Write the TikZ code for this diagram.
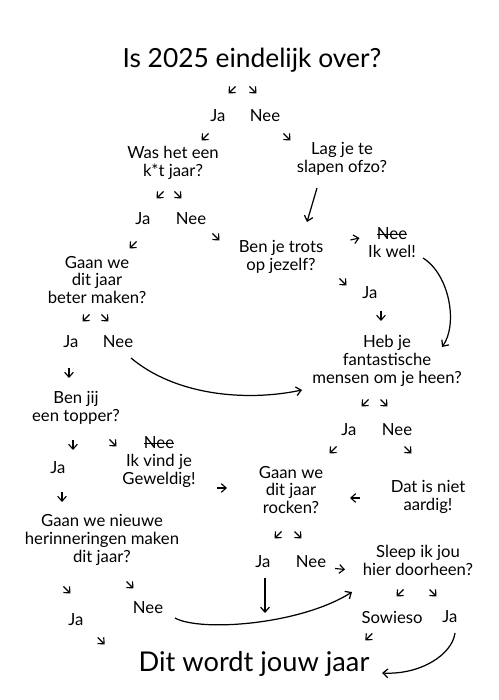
\documentclass[tikz,border=0pt]{standalone}
\usepackage{fontspec}
\setmainfont{Lato}
\usetikzlibrary{arrows.meta,calc}

\newsavebox\strikebox
\newcommand\struck[1]{\sbox\strikebox{#1}\rlap{\rule[0.3em]{\wd\strikebox}{0.5pt}}#1}

\tikzset{
  ask/.style={align=center,inner sep=1pt,font=\fontsize{9.5}{10.2}\selectfont},
  tick/.style={->,line width=0.65pt},
  swoop/.style={->,line width=0.7pt},
}

\begin{document}
\begin{tikzpicture}[x=0.02cm,y=0.02cm,>={Straight Barb[length=2.8pt,width=5pt]}]
  \fill[white] (0,0) rectangle (498,700);
  \useasboundingbox (0,0) rectangle (498,700);

  % questions and answers
  \node[font=\fontsize{15}{17}\selectfont] (title) at (252,640) {Is 2025 eindelijk over?};
  \node[ask] (q0ja) at (218,584) {Ja};
  \node[ask] (q0nee) at (265,584) {Nee};
  \node[ask] (kut) at (173,537) {Was het een\\k*t jaar?};
  \node[ask] (slaap) at (342,541) {Lag je te\\slapen ofzo?};
  \node[ask] (kutja) at (143,481) {Ja};
  \node[ask] (kutnee) at (191,481) {Nee};
  \node[ask] (beter) at (97,420) {Gaan we\\dit jaar\\beter maken?};
  \node[ask] (trots) at (281,443) {Ben je trots\\op jezelf?};
  \node[ask] (ikwel) at (392,457) {\struck{Nee}\\Ik wel!};
  \node[ask] (trotsja) at (370,407) {Ja};
  \node[ask] (mensen) at (387,339) {Heb je\\fantastische\\mensen om je heen?};
  \node[ask] (beterja) at (71,358) {Ja};
  \node[ask] (beternee) at (118,358) {Nee};
  \node[ask] (topper) at (76,292) {Ben jij\\een topper?};
  \node[ask] (topperja) at (58,232) {Ja};
  \node[ask] (geweldig) at (159,238) {\struck{Nee}\\Ik vind je\\Geweldig!};
  \node[ask] (nieuw) at (102,160) {Gaan we nieuwe\\herinneringen maken\\dit jaar?};
  \node[ask] (nieuwja) at (76,80) {Ja};
  \node[ask] (nieuwnee) at (148,92) {Nee};
  \node[ask] (mensenja) at (349,270) {Ja};
  \node[ask] (mensennee) at (397,270) {Nee};
  \node[ask] (rocken) at (291,210) {Gaan we\\dit jaar\\rocken?};
  \node[ask] (aardig) at (428,203) {Dat is niet\\aardig!};
  \node[ask] (rockenja) at (263,138) {Ja};
  \node[ask] (rockennee) at (311,138) {Nee};
  \node[ask] (sleep) at (418,140) {Sleep ik jou\\hier doorheen?};
  \node[ask] (sowieso) at (392,83) {Sowieso};
  \node[ask] (sleepja) at (450,83) {Ja};
  \node[font=\fontsize{15.5}{17}\selectfont] (final) at (254,36) {Dit wordt jouw jaar};

  % short arrows
  \draw[tick] ($(title)!.5!(q0ja)+(0.5,1.5)$) -- ++(-7,-7);
  \draw[tick] ($(title)!.5!(q0nee)+(-9,1.5)$) -- ++(7,-7);
  \draw[tick] ($(q0ja)!.5!(kut)+(13,6)$) -- ++(-7,-7);
  \draw[tick] ($(q0nee)!.5!(slaap)+(-20,4)$) -- ++(7,-7);
  \draw[tick] ($(kut)!.5!(kutja)+(5.5,-0.5)$) -- ++(-7,-7);
  \draw[tick] ($(kut)!.5!(kutnee)+(-7.5,-0.5)$) -- ++(7,-7);
  \draw[tick] ($(kutja)!.5!(beter)+(16.5,8)$) -- ++(-7,-7);
  \draw[tick] ($(kutnee)!.5!(trots)+(-23.5,4.5)$) -- ++(7,-7);
  \draw[tick] ($(trots)!.5!(ikwel)+(14,10)$) -- ++(9,2);
  \draw[tick] ($(trots)!.5!(trotsja)+(14,-3.5)$) -- ++(7,-7);
  \draw[tick] ($(trotsja)!.5!(mensen)+(2.5,16)$) -- ++(0,-10);
  \draw[tick] ($(beter)!.5!(beterja)+(5.5,-3.5)$) -- ++(-7,-7);
  \draw[tick] ($(beter)!.5!(beternee)+(-6,-3.5)$) -- ++(7,-7);
  \draw[tick] ($(beterja)!.5!(topper)+(-4.5,7)$) -- ++(0,-10);
  \draw[tick] ($(topper)!.5!(topperja)+(6,-2)$) -- ++(0,-10);
  \draw[tick] ($(topper)!.5!(geweldig)+(-8,-4.5)$) -- ++(7,-7);
  \draw[tick] ($(geweldig)!.5!(rocken)+(-8,-12)$) -- ++(10,0);
  \draw[tick] ($(topperja)!.5!(nieuw)+(-18,12)$) -- ++(0,-10);
  \draw[tick] ($(nieuw)!.5!(nieuwja)+(-25.5,-6.5)$) -- ++(7,-7);
  \draw[tick] ($(nieuw)!.5!(nieuwnee)+(1.5,-7.5)$) -- ++(7,-7);
  \draw[tick] ($(nieuwja)!.5!(final.west)+(-6.5,4.5)$) -- ++(7,-7);
  \draw[tick] ($(mensen)!.5!(mensenja)+(0.5,-4)$) -- ++(-7,-7);
  \draw[tick] ($(mensen)!.5!(mensennee)+(-11.5,-4)$) -- ++(7,-7);
  \draw[tick] ($(mensenja)!.5!(rocken)+(16.5,13.5)$) -- ++(-7,-7);
  \draw[tick] ($(mensennee)!.5!(aardig)+(-8,17)$) -- ++(7,-7);
  \draw[tick] ($(aardig)!.5!(rocken)+(0.5,-4.5)$) -- ++(-10,0);
  \draw[tick] ($(rocken)!.5!(rockenja)+(4.5,-5.5)$) -- ++(-7,-7);
  \draw[tick] ($(rocken)!.5!(rockennee)+(-6.5,-5.5)$) -- ++(7,-7);
  \draw[tick] ($(rockennee)!.5!(sleep)+(-29.5,-7.5)$) -- ++(10,-1);
  \draw[tick] ($(sleep)!.5!(sowieso)+(-1.5,-1)$) -- ++(-7,-7);
  \draw[tick] ($(sleep)!.5!(sleepja)+(-4.5,-1)$) -- ++(7,-7);
  \draw[tick] ($(sowieso)!.5!(final.east)+(-11.5,7)$) -- ++(-7,-7);

  % long arrows
  \draw[swoop] ($(slaap)+(-25,-29)$) -- ($(trots)+(26,35)$);
  \draw[swoop] ($(rockenja)+(2,-16)$) -- ++(0,-35);
  \draw[swoop] ($(ikwel)+(31,-15)$) .. controls ($(ikwel)+(58,-32)$) and ($(mensen)+(71,36)$) .. ($(mensen)+(55,14)$);
  \draw[swoop] ($(beternee)+(13,-16)$) .. controls ($(beternee)+(57,-53)$) and ($(mensen)+(-142,-41)$) .. ($(mensen)+(-85,-29)$);
  \draw[swoop] ($(nieuwnee)+(27,-10)$) .. controls ($(nieuwnee)+(52,-24)$) and ($(sleep)+(-118,-65)$) .. ($(sleep)+(-66,-32)$);
  \draw[swoop] ($(sleepja)+(5,-16)$) .. controls ($(sleepja)+(2,-38)$) and ($(final)+(166,-11)$) .. ($(final)+(128,-9)$);
\end{tikzpicture}
\end{document}
